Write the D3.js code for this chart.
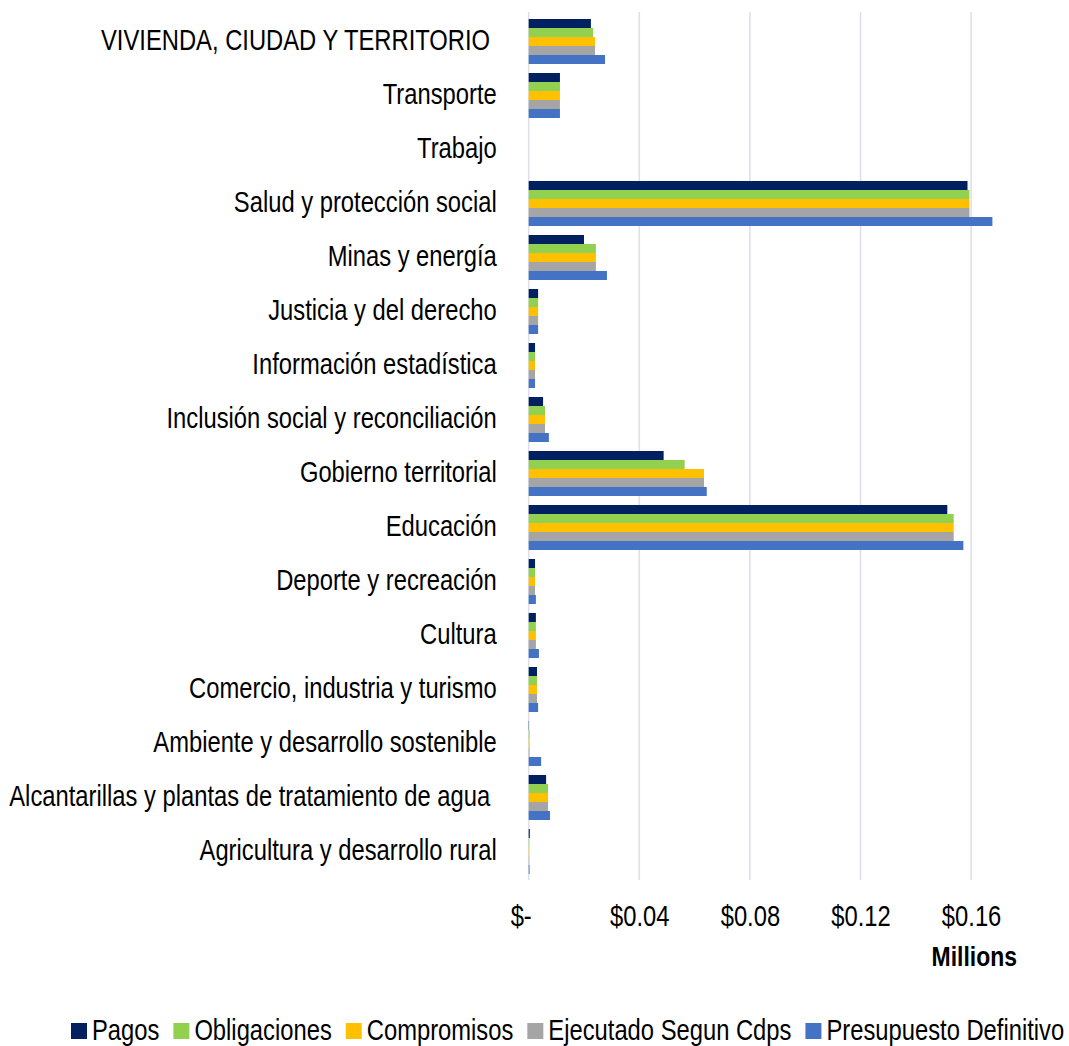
<!DOCTYPE html>
<html>
<head>
<meta charset="utf-8">
<script src="https://cdn.jsdelivr.net/npm/d3@7"></script>
<style>
    body { margin: 0; background: #fff; }
    text { font-family: 'Liberation Sans', Arial, sans-serif; fill: #000; white-space: pre; }
</style>
</head>
<body>
<script>

// Data (values in millions)
const categories = [
    'VIVIENDA, CIUDAD Y TERRITORIO ',
    'Transporte',
    'Trabajo',
    'Salud y protección social',
    'Minas y energía',
    'Justicia y del derecho',
    'Información estadística',
    'Inclusión social y reconciliación',
    'Gobierno territorial',
    'Educación',
    'Deporte y recreación',
    'Cultura',
    'Comercio, industria y turismo',
    'Ambiente y desarrollo sostenible',
    'Alcantarillas y plantas de tratamiento de agua ',
    'Agricultura y desarrollo rural'
]

const pagos        = [0.0225, 0.0113, 0, 0.1587, 0.0200, 0.0034, 0.0023, 0.0052, 0.0488, 0.1514, 0.0023, 0.0026, 0.0030, 0.0001, 0.0063, 0.0004]
const obligaciones = [0.0233, 0.0113, 0, 0.1594, 0.0243, 0.0034, 0.0023, 0.0059, 0.0564, 0.1537, 0.0023, 0.0026, 0.0030, 0.0003, 0.0070, 0.0002]
const compromisos  = [0.0240, 0.0113, 0, 0.1594, 0.0243, 0.0034, 0.0023, 0.0059, 0.0634, 0.1537, 0.0023, 0.0026, 0.0030, 0.0003, 0.0070, 0.0002]
const ejecutado    = [0.0240, 0.0113, 0, 0.1594, 0.0243, 0.0034, 0.0023, 0.0059, 0.0634, 0.1537, 0.0023, 0.0026, 0.0030, 0.0003, 0.0070, 0.0002]
const presupuesto  = [0.0276, 0.0113, 0, 0.1677, 0.0283, 0.0034, 0.0023, 0.0073, 0.0644, 0.1572, 0.0026, 0.0037, 0.0034, 0.0045, 0.0077, 0.0003]

const seriesNames = ['Pagos', 'Obligaciones', 'Compromisos', 'Ejecutado Segun Cdps', 'Presupuesto Definitivo']
const seriesValues = [pagos, obligaciones, compromisos, ejecutado, presupuesto]
const seriesColors = ['#002060', '#92d050', '#ffc000', '#a5a5a5', '#4472c4']

const xTicks = [0, 0.04, 0.08, 0.12, 0.16]

const w = 1069
const h = 1046
const x0 = 528.7
const fontSize = 29
const narrow = 0.82   // squeeze text horizontally like Arial Narrow

const svg = d3.select('body')
    .append('svg')
        .attr('width', w)
        .attr('height', h)

// Scales
const xScale = d3.scaleLinear()
    .domain([0, 0.18])
    .range([x0, x0 + 0.18 * 2765])

const yScale = d3.scaleBand()
    .domain(categories)
    .range([14.5, 878.5])
    .paddingInner(9 / 54)
    .paddingOuter(4.5 / 54)

const ySub = d3.scaleBand()
    .domain(seriesNames)
    .range([0, yScale.bandwidth()])

// Gridlines
svg.append('g')
    .selectAll('line')
    .data(xTicks)
    .enter()
    .append('line')
        .attr('x1', d => xScale(d))
        .attr('x2', d => xScale(d))
        .attr('y1', 12)
        .attr('y2', 880)
        .attr('stroke', '#dde1e7')
        .attr('stroke-width', 1.6)

// Bars
const groups = svg.selectAll('.group')
    .data(categories)
    .enter()
    .append('g')
        .attr('class', 'group')
        .attr('transform', d => `translate(0, ${yScale(d)})`)

groups.selectAll('rect')
    .data((d, i) => seriesNames.map((s, j) => ({ series: s, value: seriesValues[j][i], color: seriesColors[j] })))
    .enter()
    .append('rect')
        .attr('x', xScale(0))
        .attr('y', d => ySub(d.series))
        .attr('width', d => xScale(d.value) - xScale(0))
        .attr('height', ySub.bandwidth())
        .attr('fill', d => d.color)

// Category labels
const yAxis = d3.axisLeft(yScale).tickSize(0).tickPadding(32)
const yAxisG = svg.append('g')
    .attr('transform', `translate(${x0}, 0)`)
    .call(yAxis)
yAxisG.select('.domain').remove()
yAxisG.selectAll('text')
    .attr('font-size', fontSize)
    .attr('dy', '0.3em')
    .attr('x', -32 / narrow)
    .attr('transform', `scale(${narrow}, 1)`)
    .style('font-family', null)

// X axis labels
const xAxis = d3.axisBottom(xScale)
    .tickValues(xTicks)
    .tickSize(0)
    .tickPadding(0)
    .tickFormat(d => d === 0 ? '$-' : '$' + d3.format('.2f')(d))
const xAxisG = svg.append('g')
    .attr('transform', 'translate(0, 926)')
    .call(xAxis)
xAxisG.select('.domain').remove()
xAxisG.selectAll('text')
    .attr('font-size', fontSize)
    .attr('y', 0)
    .attr('dy', 0)
    .attr('dx', d => d === 0 ? -8 / narrow : 0)
    .attr('transform', `scale(${narrow}, 1)`)
    .style('font-family', null)

svg.append('text')
    .attr('x', 1017 / narrow)
    .attr('y', 966)
    .attr('text-anchor', 'end')
    .attr('font-size', 28)
    .attr('font-weight', 'bold')
    .attr('transform', `scale(${narrow}, 1)`)
    .text('Millions')

// Legend
const legend = svg.append('g')
let lx = 71
seriesNames.forEach((name, i) => {
    legend.append('rect')
        .attr('x', lx)
        .attr('y', 1023)
        .attr('width', 16)
        .attr('height', 16)
        .attr('fill', seriesColors[i])
    const t = legend.append('text')
        .attr('x', (lx + 21) / narrow)
        .attr('y', 1040)
        .attr('font-size', fontSize)
        .attr('transform', `scale(${narrow}, 1)`)
        .text(name)
    lx += 21 + t.node().getComputedTextLength() * narrow + 14
})

</script>
</body>
</html>
